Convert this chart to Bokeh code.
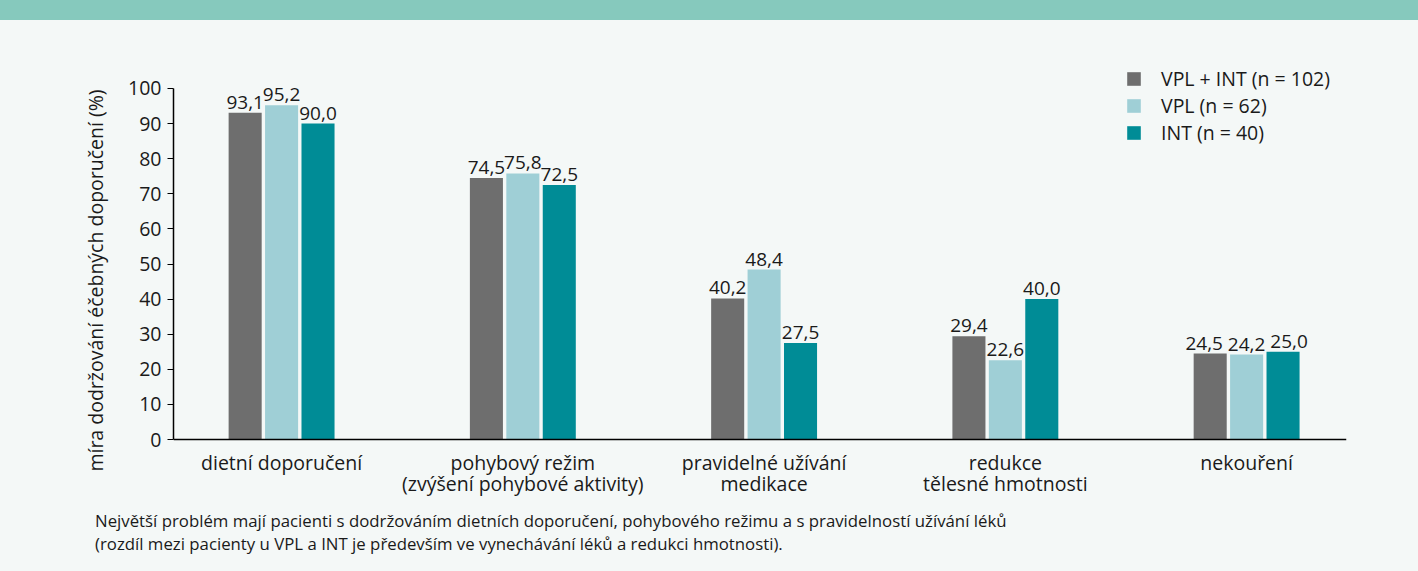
from bokeh.plotting import figure
from bokeh.models import ColumnDataSource, FixedTicker, Legend, LegendItem, Div, Span
from bokeh.layouts import column
from bokeh.core.properties import value
from bokeh.transform import dodge
from bokeh.embed import file_html
from bokeh.resources import INLINE

FONT = "Open Sans"
BG = "#F4F8F7"
TXT = "#1a1a1a"

categories = ["dietní doporučení",
              "pohybový režim\n(zvýšení pohybové aktivity)",
              "pravidelné užívání\nmedikace",
              "redukce\ntělesné hmotnosti",
              "nekouření"]
series_names = ["VPL + INT (n = 102)", "VPL (n = 62)", "INT (n = 40)"]
vpl_int = [93.1, 74.5, 40.2, 29.4, 24.5]
vpl = [95.2, 75.8, 48.4, 22.6, 24.2]
int_only = [90.0, 72.5, 27.5, 40.0, 25.0]
colors = ["#6E6E6E", "#9FCFD6", "#008C96"]
y_ticks = [0, 10, 20, 30, 40, 50, 60, 70, 80, 90, 100]
y_label = "míra dodržování éčebných doporučení (%)"
footnote = ["Největší problém mají pacienti s dodržováním dietních doporučení, pohybového režimu a s pravidelností užívání léků",
            "(rozdíl mezi pacienty u VPL a INT je především ve vynechávání léků a redukci hmotnosti)."]

def fmt(v):
    return ("%.1f" % v).replace(".", ",")

x_idx = list(range(len(categories)))
first_lines = [c.split("\n")[0] for c in categories]
second_lines = [(c.split("\n") + [""])[1] for c in categories]

# spread value labels sideways where neighbouring bars are of similar height
def nudges(series, side):
    out = []
    for i in range(len(series)):
        vals = [vpl_int[i], vpl[i], int_only[i]]
        close = max(vals) - min(vals) < 3
        out.append(side * 6 if close else 0)
    return out

src = ColumnDataSource(dict(
    x=x_idx,
    a=vpl_int, b=vpl, c=int_only,
    la=[fmt(v) for v in vpl_int], lb=[fmt(v) for v in vpl], lc=[fmt(v) for v in int_only],
    na=nudges(vpl_int, -1), nb=nudges(vpl, 0), nc=nudges(int_only, 1),
))
cat_src = ColumnDataSource(dict(x=x_idx, y0=[0] * len(x_idx), l1=first_lines, l2=second_lines))

# frame: 450 px tall; value 0 sits 384 px below the frame top, leaving room for category names
p = figure(width=1418, height=485, x_range=(-0.448, 4.414), y_range=(-18.8, 109.4),
           output_backend="svg", toolbar_location=None,
           min_border_left=173, min_border_right=72, min_border_top=35, min_border_bottom=0,
           background_fill_color=BG, border_fill_color=BG, outline_line_color=None,
           margin=0)
p.grid.visible = False
p.xaxis.visible = False

step = 0.151
bw = 0.137
renderers = []
for off, col, lab, nud, colr in zip([-step, 0, step], ["a", "b", "c"], ["la", "lb", "lc"],
                                    ["na", "nb", "nc"], colors):
    r = p.vbar(x=dodge("x", off, range=p.x_range), top=col, width=bw, bottom=0,
               source=src, fill_color=colr, line_color=None)
    renderers.append(r)
    p.text(x=dodge("x", off, range=p.x_range), y=col, text=lab, source=src,
           x_offset=nud, text_align="center", text_baseline="bottom", y_offset=-4,
           text_font=value(FONT), text_font_size="19px", text_color=TXT)

# x axis line at value 0 and category names below it
p.add_layout(Span(location=0, dimension="width", line_color="#000000", line_width=1.5))
for col, off in (("l1", 23), ("l2", 44)):
    p.text(x="x", y="y0", text=col, source=cat_src, y_offset=off,
           text_align="center", text_baseline="middle",
           text_font=value(FONT), text_font_size="19.5px", text_color=TXT)

ya = p.yaxis[0]
ya.ticker = FixedTicker(ticks=y_ticks)
ya.bounds = (0, 100)
ya.major_tick_in = 0
ya.major_tick_out = 6
ya.minor_tick_line_color = None
ya.axis_line_color = "#000000"
ya.axis_line_width = 1.5
ya.major_tick_line_color = "#000000"
ya.major_tick_line_width = 1.2
ya.major_label_text_font = FONT
ya.major_label_text_font_size = "19.5px"
ya.major_label_text_color = TXT
ya.major_label_standoff = 6
ya.axis_label = y_label
ya.axis_label_text_font = FONT
ya.axis_label_text_font_size = "19.5px"
ya.axis_label_text_font_style = "normal"
ya.axis_label_text_color = TXT
ya.axis_label_standoff = 16

legend = Legend(items=[LegendItem(label=n, renderers=[r]) for n, r in zip(series_names, renderers)],
                location=(952, 359), orientation="vertical",
                glyph_width=17, glyph_height=17, label_height=17, spacing=0,
                label_standoff=19, padding=0, margin=0,
                label_text_font=FONT, label_text_font_size="19.5px", label_text_color=TXT,
                border_line_color=None, background_fill_alpha=0)
p.add_layout(legend)

band = Div(text="", width=1418, height=20, margin=0,
           styles={"background-color": "#86C9BD"})
foot = Div(text='<div style="padding:4px 0 0 95px;font-family:\'Open Sans\';font-size:16.8px;line-height:23px;color:#1a1a1a;white-space:nowrap;">'
           + "<br>".join(footnote) + "</div>",
           width=1418, height=66, margin=0, styles={"background-color": BG})

layout = column(band, p, foot, spacing=0, margin=0, styles={"background-color": BG})
open("out.html", "w").write(file_html(layout, INLINE))
